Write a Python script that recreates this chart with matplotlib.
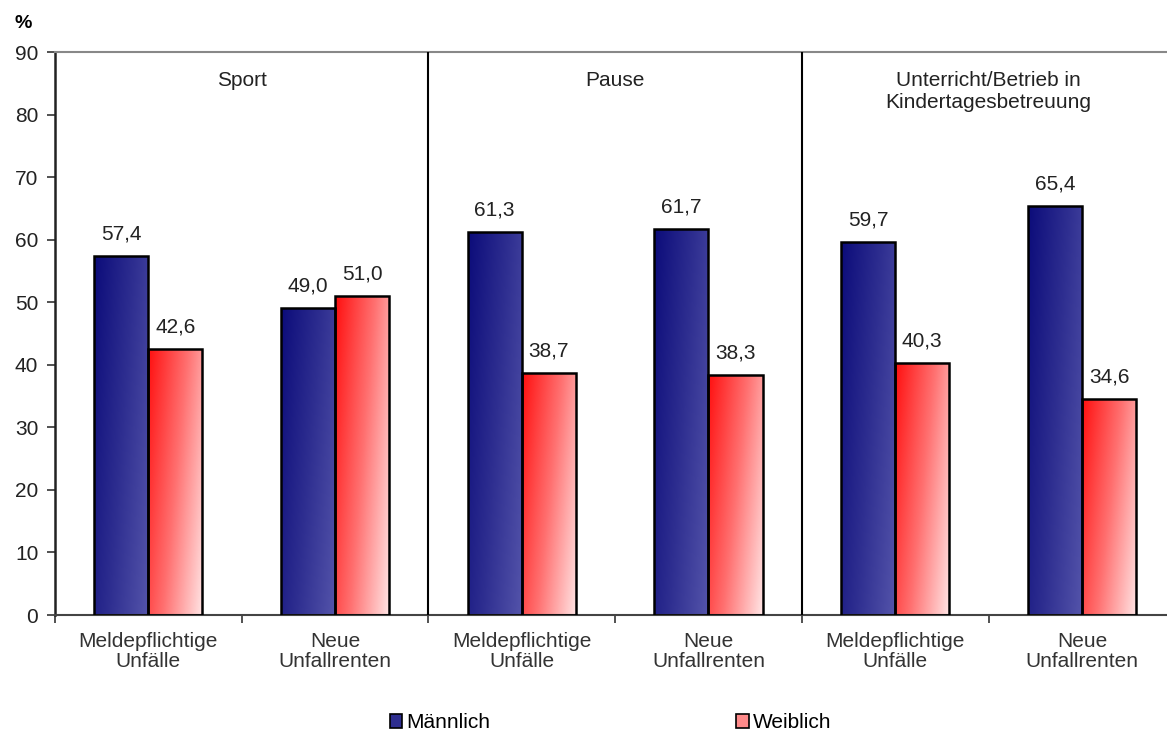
import numpy as np
import matplotlib.pyplot as plt
from matplotlib.colors import LinearSegmentedColormap
from matplotlib.patches import Patch

plt.rcParams['font.family'] = ['Liberation Sans', 'DejaVu Sans']
plt.rcParams['font.size'] = 15

categories = ['Meldepflichtige\nUnfälle', 'Neue\nUnfallrenten'] * 3
sections = ['Sport', 'Pause', 'Unterricht/Betrieb in\nKindertagesbetreuung']
maennlich = [57.4, 49.0, 61.3, 61.7, 59.7, 65.4]
weiblich = [42.6, 51.0, 38.7, 38.3, 40.3, 34.6]
series_names = ['Männlich', 'Weiblich']

blue_cmap = LinearSegmentedColormap.from_list('blue', ['#0c0c7a', '#2e2e90', '#5454aa'])
red_cmap = LinearSegmentedColormap.from_list('red', ['#ff1010', '#ff7070', '#ffe4e4'])


def gradient_bars(ax, bars, cmap):
    # diagonal fill: dark at top-left, light at bottom-right
    yy, xx = np.mgrid[0:1:64j, 0:1:64j]
    grad = 0.75 * xx + 0.35 * yy
    grad = grad / grad.max()
    for bar in bars:
        x0, y0 = bar.get_x(), bar.get_y()
        w, h = bar.get_width(), bar.get_height()
        bar.set_facecolor('none')
        im = ax.imshow(grad, cmap=cmap, aspect='auto', origin='upper',
                       extent=(x0, x0 + w, y0, y0 + h), zorder=2,
                       interpolation='bilinear')
        im.set_clip_path(bar)


fig = plt.figure(figsize=(11.67, 7.36), dpi=100)
ax = fig.add_axes([0.0471, 0.1644, 0.96, 0.7649])

x = np.arange(len(categories))
bw = 0.29
b1 = ax.bar(x - bw / 2, maennlich, bw, edgecolor='black', linewidth=1.8, zorder=3)
b2 = ax.bar(x + bw / 2, weiblich, bw, edgecolor='black', linewidth=1.8, zorder=3)
gradient_bars(ax, b1, blue_cmap)
gradient_bars(ax, b2, red_cmap)

for xi, v in zip(x - bw / 2, maennlich):
    ax.text(xi, v + 2.0, f'{v:.1f}'.replace('.', ','), ha='center', va='bottom', color='#222222')
for xi, v in zip(x + bw / 2, weiblich):
    ax.text(xi, v + 2.0, f'{v:.1f}'.replace('.', ','), ha='center', va='bottom', color='#222222')

ax.set_xlim(-0.5, len(categories) - 0.5)
ax.set_ylim(0, 90)
ax.set_yticks(range(0, 91, 10))
ax.set_xticks(x)
ax.set_xticklabels(categories, color='#333333', linespacing=1.1)
ax.set_xticks(np.arange(-0.5, len(categories), 1.0), minor=True)
ax.tick_params(axis='x', which='major', length=0, pad=12)
ax.tick_params(axis='x', which='minor', length=6, width=1.2, color='#333333', direction='out')
ax.tick_params(axis='y', length=6, width=1.2, color='#333333', labelcolor='#222222', pad=6)

for pos in [1.5, 3.5]:
    ax.axvline(pos, color='black', linewidth=1.5, zorder=4)

for i, s in enumerate(sections):
    ax.text(2 * i + 0.5, 87.0, s, ha='center', va='top', color='#222222', linespacing=1.2)

ax.spines['left'].set_linewidth(1.8)
ax.spines['left'].set_color('#222222')
ax.spines['bottom'].set_color('#444444')
ax.spines['bottom'].set_linewidth(1.5)
ax.spines['top'].set_color('#888888')
ax.spines['top'].set_linewidth(1.5)
ax.spines['right'].set_visible(False)

fig.text(0.012, 0.968, '%', fontsize=14, fontweight='bold', ha='left', va='center')

handles = [Patch(facecolor='#2e2e90', edgecolor='black', linewidth=1.2),
           Patch(facecolor='#ff8a8a', edgecolor='black', linewidth=1.2)]
fig.legend(handles, series_names, loc='center', bbox_to_anchor=(0.523, 0.018), ncol=2,
           frameon=False, handlelength=0.6, handleheight=0.6, handletextpad=0.2,
           columnspacing=11.8, fontsize=15)

fig.savefig('out.png', dpi=100)
